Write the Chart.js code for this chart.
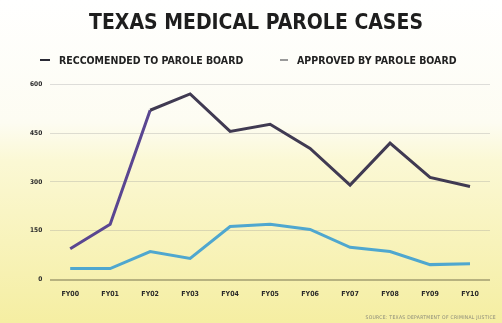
<!DOCTYPE html>
<html>
<head>
<meta charset="utf-8">
<script src="https://cdn.jsdelivr.net/npm/chart.js@4.4.0/dist/chart.umd.min.js"></script>
<style>
  html, body { margin: 0; padding: 0; background: #fff; }
  #wrap { position: relative; width: 502px; height: 323px; }
  .legend {
    position: absolute; top: 54px; height: 12px;
    font: bold 10.5px 'DejaVu Sans Condensed', sans-serif; color: #222;
    white-space: nowrap; line-height: 12px;
  }
  .legend i {
    display: inline-block; vertical-align: middle; height: 2px;
    margin-right: 9px; margin-top: -2px;
  }
  #source {
    position: absolute; right: 6px; bottom: 3px;
    font: 5px 'DejaVu Sans Condensed', sans-serif; color: #8a8a7a;
    letter-spacing: 0.3px;
  }
</style>
</head>
<body>
<div id="wrap">
  <canvas id="chart" width="502" height="323"></canvas>
  <div class="legend" id="leg0" style="left:40px"></div>
  <div class="legend" id="leg1" style="left:280px"></div>
  <div id="source">SOURCE: TEXAS DEPARTMENT OF CRIMINAL JUSTICE</div>
</div>
<script>
// Fiscal years
const years = ['FY00', 'FY01', 'FY02', 'FY03', 'FY04', 'FY05', 'FY06', 'FY07', 'FY08', 'FY09', 'FY10'];

// Cases recommended to parole board
const recommended = [95, 170, 520, 570, 455, 477, 403, 290, 419, 314, 286];

// Cases approved by parole board
const approved = [34, 34, 86, 65, 163, 170, 154, 99, 86, 46, 49];

// Y axis ticks
const yTicks = [0, 150, 300, 450, 600];

// Legend entries
const seriesNames = ['RECCOMENDED TO PAROLE BOARD', 'APPROVED BY PAROLE BOARD'];
const legendSwatch = [{ color: '#2a2a35', width: 10 }, { color: '#9a9a9a', width: 8 }];

const condensed = "'DejaVu Sans Condensed', 'Liberation Sans Narrow', sans-serif";

// Paint the white-to-yellow paper background
const paperBackground = {
    id: 'paperBackground',
    beforeDraw(chart) {
        const ctx = chart.ctx;
        const g = ctx.createLinearGradient(0, 0, 0, chart.height);
        g.addColorStop(0, '#ffffff');
        g.addColorStop(0.38, '#fdfcf2');
        g.addColorStop(0.5, '#fbf8d4');
        g.addColorStop(1, '#f5eea2');
        ctx.save();
        ctx.fillStyle = g;
        ctx.fillRect(0, 0, chart.width, chart.height);
        ctx.restore();
    }
};

// Simple HTML legend
seriesNames.forEach((name, i) => {
    const el = document.getElementById('leg' + i);
    el.innerHTML = '<i style="width:' + legendSwatch[i].width + 'px;background:' +
        legendSwatch[i].color + '"></i>' + name;
});

new Chart(document.getElementById('chart'), {
    type: 'line',
    data: {
        labels: years,
        datasets: [
            {
                label: seriesNames[0],
                data: recommended,
                borderColor: '#403a52',
                borderWidth: 3,
                pointRadius: 0,
                tension: 0,
                segment: {
                    borderColor: c => (c.p0DataIndex < 2 ? '#5a4691' : '#403a52')
                }
            },
            {
                label: seriesNames[1],
                data: approved,
                borderColor: '#4fa7cf',
                borderWidth: 3,
                pointRadius: 0,
                tension: 0
            }
        ]
    },
    options: {
        responsive: false,
        animation: false,
        layout: { padding: { left: 22, right: 12, top: 3, bottom: 23 } },
        plugins: {
            title: {
                display: true,
                text: 'TEXAS MEDICAL PAROLE CASES',
                color: '#1e1e1e',
                font: { family: condensed, size: 21, weight: 'bold' },
                padding: { top: 8, bottom: 48 }
            },
            legend: { display: false },
            tooltip: { enabled: false }
        },
        scales: {
            x: {
                offset: true,
                grid: { display: false },
                border: { display: false },
                ticks: {
                    color: '#2a2a2a',
                    font: { family: condensed, size: 7, weight: 'bold' },
                    maxRotation: 0,
                    padding: 2
                }
            },
            y: {
                min: 0,
                max: 600,
                afterBuildTicks: axis => { axis.ticks = yTicks.map(v => ({ value: v })); },
                grid: {
                    color: c => (c.tick.value === 0 ? 'rgba(120,115,80,0.5)' : 'rgba(150,150,150,0.3)'),
                    lineWidth: c => (c.tick.value === 0 ? 2 : 1),
                    drawTicks: false
                },
                border: { display: false },
                ticks: {
                    color: '#2a2a2a',
                    font: { family: condensed, size: 6.5, weight: 'bold' },
                    padding: 8
                }
            }
        }
    },
    plugins: [paperBackground]
});
</script>
</body>
</html>
